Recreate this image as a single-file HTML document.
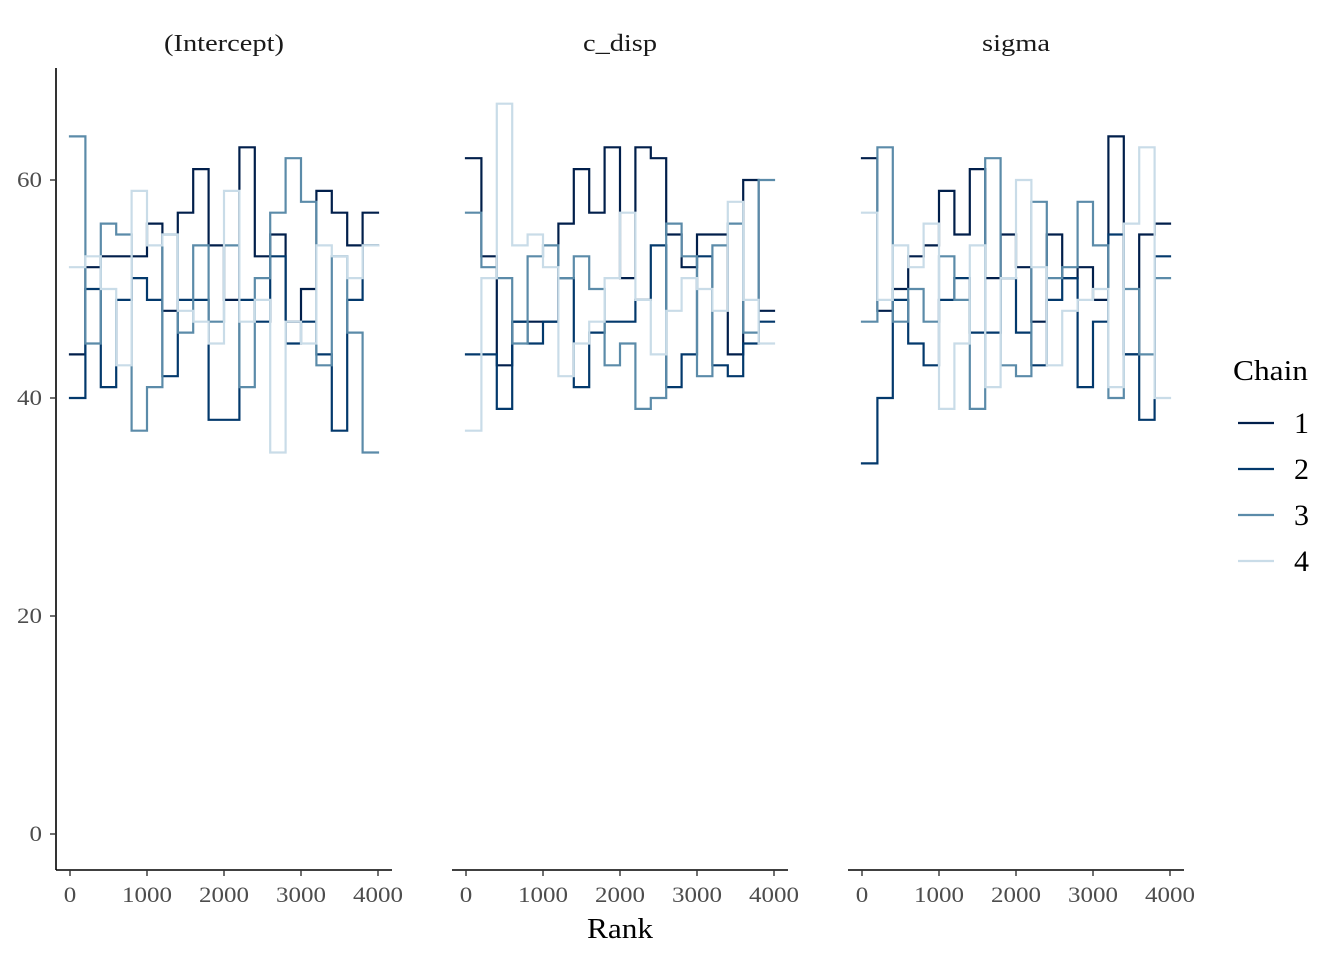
<!DOCTYPE html>
<html><head><meta charset="utf-8"><style>
html,body{margin:0;padding:0;background:#fff;}
svg{display:block;font-family:"Liberation Serif",serif;}
</style></head><body>
<svg id="chart" width="1344" height="960" viewBox="0 0 1344 960">
<rect width="1344" height="960" fill="#fff"/>
<g id="panels"></g>
<text x="620" y="938" font-size="28" text-anchor="middle" fill="#000" textLength="66" lengthAdjust="spacingAndGlyphs">Rank</text>
<g>
<text x="1233" y="380" font-size="28" fill="#000" textLength="75" lengthAdjust="spacingAndGlyphs">Chain</text>
<g id="legend"></g>
</g>
</svg>
<script>
const panelTitles = ["(Intercept)", "c_disp", "sigma"];
const xTicks = [0, 1000, 2000, 3000, 4000];
const yTicks = [0, 20, 40, 60];
const chainLabels = ["1", "2", "3", "4"];
const binWidth = 200;
// Intercept
const p1c1 = [44,52,53,53,53,56,48,57,61,54,49,63,53,55,47,50,59,57,54,57];
const p1c2 = [40,50,41,49,51,49,42,49,49,38,38,49,47,53,45,47,44,37,49,54];
const p1c3 = [64,45,56,55,37,41,55,46,54,47,54,41,51,57,62,58,43,53,46,35];
const p1c4 = [52,53,50,43,59,54,55,48,47,45,59,47,49,35,47,45,54,53,51,54];
// c_disp
const p2c1 = [62,53,43,47,47,47,56,61,57,63,51,63,62,55,52,55,55,44,60,48];
const p2c2 = [44,44,39,47,45,47,51,41,46,47,47,49,54,41,44,53,43,42,45,47];
const p2c3 = [57,52,51,45,53,54,51,53,50,43,45,39,40,56,53,42,54,56,46,60];
const p2c4 = [37,51,67,54,55,52,42,45,47,51,57,49,44,48,51,50,48,58,49,45];
// sigma
const p3c1 = [62,48,50,53,54,59,55,61,51,55,52,47,55,51,52,49,64,44,55,56];
const p3c2 = [34,40,49,45,43,49,51,46,46,51,46,43,49,51,41,47,55,44,38,53];
const p3c3 = [47,63,47,50,47,53,49,39,62,43,42,58,51,52,58,54,40,50,44,51];
const p3c4 = [57,49,54,52,56,39,45,54,41,51,60,52,43,48,49,50,41,56,63,40];
const panelData = [[p1c1,p1c2,p1c3,p1c4],[p2c1,p2c2,p2c3,p2c4],[p3c1,p3c2,p3c3,p3c4]];
const colors = ["#011f4b","#03396c","#5b8ba9","#c9dce8"];

const NS = "http://www.w3.org/2000/svg";
const panelsG = document.getElementById("panels");
const panelX0 = [70, 466, 862];
const titleWidths = [120, 74, 68];
const xScale = (p, v) => panelX0[p] + v * (308 / 4000);
const yScale = v => 834 - v * 10.9;

function mk(tag, attrs, parent){
  const e = document.createElementNS(NS, tag);
  for (const k in attrs) e.setAttribute(k, attrs[k]);
  parent.appendChild(e);
  return e;
}

panelData.forEach((series, p) => {
  const g = mk("g", {}, panelsG);
  
  
  const title = mk("text", {x: xScale(p, 2000), y: 51, "font-size": 24, "text-anchor": "middle", fill: "#1a1a1a", textLength: titleWidths[p], lengthAdjust: "spacingAndGlyphs"}, g);
  title.textContent = panelTitles[p];
  
  
  const xa = mk("line", {x1: panelX0[p] - 14, x2: panelX0[p] + 322, y1: 870, y2: 870, stroke: "#000", "stroke-width": 1.6}, g);
  
  
  xTicks.forEach(t => {
    const tx = xScale(p, t);
    const tk = mk("line", {x1: tx, x2: tx, y1: 870, y2: 876, stroke: "#333", "stroke-width": 1.4}, g);
    
    
    const label = String(t);
    const tl = mk("text", {x: tx, y: 902, "font-size": 22, "text-anchor": "middle", fill: "#4d4d4d", textLength: label.length * 12.5, lengthAdjust: "spacingAndGlyphs"}, g);
    tl.textContent = label;
    
    
  });
  if (p === 0) {
    const ya = mk("line", {x1: 56, x2: 56, y1: 68, y2: 870, stroke: "#000", "stroke-width": 1.6}, g);
    
    
    yTicks.forEach(t => {
      const ty = yScale(t);
      const tk = mk("line", {x1: 50, x2: 56, y1: ty, y2: ty, stroke: "#333", "stroke-width": 1.4}, g);
      
      
      const label = String(t);
      const tl = mk("text", {x: 42, y: ty + 7, "font-size": 22, "text-anchor": "end", fill: "#4d4d4d", textLength: label.length * 12.5, lengthAdjust: "spacingAndGlyphs"}, g);
      tl.textContent = label;
      
      
    });
  }
  series.forEach((vals, c) => {
    let d = "";
    vals.forEach((v, i) => {
      const xa0 = xScale(p, i * binWidth), xa1 = xScale(p, (i + 1) * binWidth), y = yScale(v);
      d += (i === 0 ? "M" : "L") + xa0.toFixed(2) + "," + y.toFixed(2) + "L" + xa1.toFixed(2) + "," + y.toFixed(2);
    });
    const path = mk("path", {d: d, fill: "none", stroke: colors[c], "stroke-width": 2.2, "stroke-linejoin": "miter", "stroke-linecap": "square"}, g);
    
    
  });
});

const legendG = document.getElementById("legend");
chainLabels.forEach((lab, i) => {
  const y = 423 + i * 46;
  const ln = mk("line", {x1: 1238, x2: 1274, y1: y, y2: y, stroke: colors[i], "stroke-width": 2.2}, legendG);
  
  
  const t = mk("text", {x: 1294, y: y + 10, "font-size": 30, fill: "#000"}, legendG);
  t.textContent = lab;
  
  
});
</script>
</body></html>
